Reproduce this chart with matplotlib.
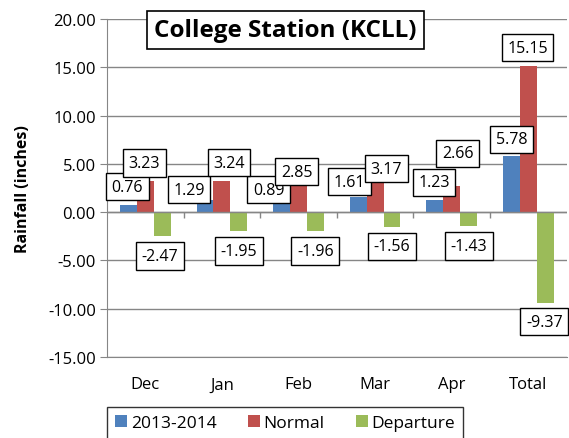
import matplotlib
matplotlib.use('Agg')
import matplotlib.pyplot as plt
import numpy as np

plt.rcParams['font.family'] = ['Open Sans', 'DejaVu Sans']
plt.rcParams['axes.unicode_minus'] = False

months = ['Dec', 'Jan', 'Feb', 'Mar', 'Apr', 'Total']
obs = [0.76, 1.29, 0.89, 1.61, 1.23, 5.78]
normal = [3.23, 3.24, 2.85, 3.17, 2.66, 15.15]
depart = [-2.47, -1.95, -1.96, -1.56, -1.43, -9.37]

# label offsets (pixels) from bar end, hand-placed like the original
obs_off = [(-1, 18), (-16, 10), (-13, 14), (-9, 15), (-1, 18), (0, 17)]
norm_off = [(-1, 18), (7, 18), (-2, 13), (11, 13), (6, 33), (-1, 18)]
dep_off = [(-2, -20), (0, -20), (0, -20), (0, -19), (0, -20), (-1, -19)]

fig = plt.figure(figsize=(5.69, 4.39), dpi=100)
ax = fig.add_axes([0.188, 0.1845, 0.808, 0.770])

x = np.arange(len(months))
w = 0.22
series = [(obs, '#4F81BD', '2013-2014', -w, obs_off),
          (normal, '#C0504D', 'Normal', 0, norm_off),
          (depart, '#9BBB59', 'Departure', w, dep_off)]

for vals, col, lab, dx, offs in series:
    ax.bar(x + dx, vals, w, color=col, label=lab, zorder=3)
    for xi, v, o in zip(x, vals, offs):
        ax.annotate('%.2f' % v, (xi + dx, v), xytext=o, textcoords='offset pixels',
                    ha='center', va='center', fontsize=11.5, zorder=5,
                    bbox=dict(boxstyle='square,pad=0.35', fc='white', ec='black', lw=1))

ax.set_xlim(-0.5, 5.5)
ax.set_ylim(-15, 20)
ax.set_yticks(np.arange(-15, 21, 5))
ax.set_yticklabels(['%.2f' % t for t in np.arange(-15, 21, 5)], fontsize=12)
ax.yaxis.grid(True, color='#868686', lw=1, zorder=0)
ax.set_xticks(x)
ax.set_xticklabels(months, fontsize=12)
ax.tick_params(axis='x', length=0, pad=14)
ax.tick_params(axis='y', length=5, color='#868686', pad=3)

for s in ['top', 'right']:
    ax.spines[s].set_visible(False)
ax.spines['left'].set_color('#868686')
ax.spines['bottom'].set_color('#868686')

# category axis line at zero with boundary tick marks
ax.axhline(0, color='#868686', lw=1, zorder=4)
ax.vlines(np.arange(0.5, 5.5, 1), -0.6, 0, color='#868686', lw=1, zorder=4)

ax.set_ylabel('Rainfall (inches)', fontsize=11.5, fontweight='bold', labelpad=12)

fig.text(0.501, 0.929, 'College Station (KCLL)', ha='center', va='center',
         fontsize=17.5, fontweight='bold',
         bbox=dict(boxstyle='square,pad=0.3', fc='white', ec='black', lw=1.2))

leg = fig.legend(loc='center', bbox_to_anchor=(0.501, 0.035), ncol=3, fontsize=12.5,
                 frameon=True, fancybox=False, edgecolor='black', handlelength=0.7,
                 handleheight=0.7, handletextpad=0.2, columnspacing=1.8,
                 borderpad=0.45, borderaxespad=0)
leg.get_frame().set_linewidth(1)

fig.savefig('out.png', dpi=100)
